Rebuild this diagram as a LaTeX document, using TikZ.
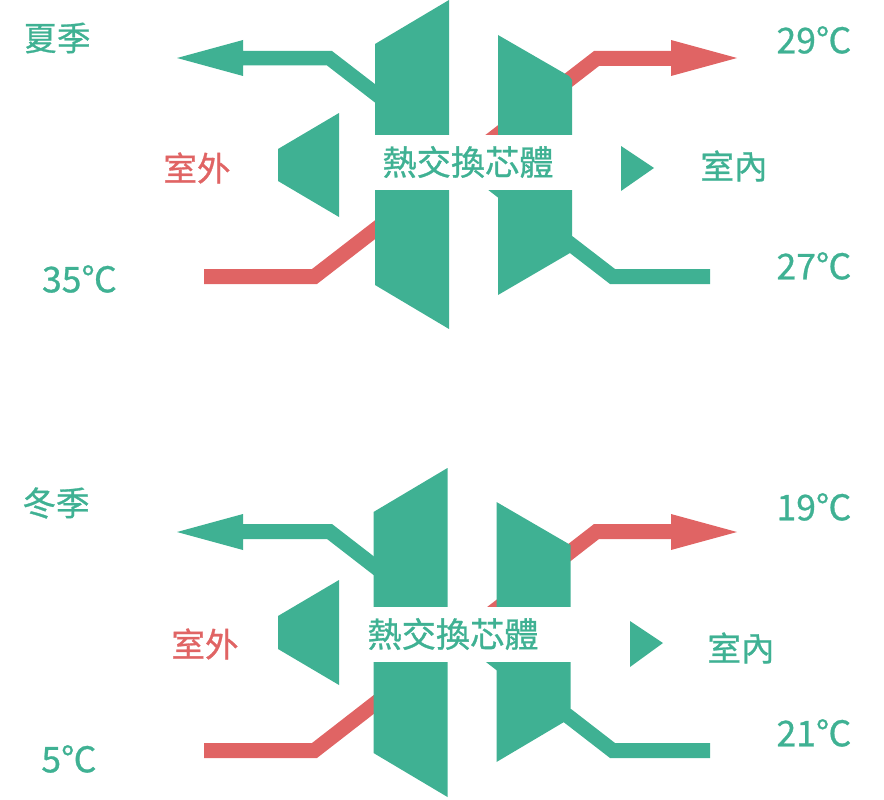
\documentclass[tikz,border=0pt]{standalone}
\usepackage{fontspec}
\setmainfont[FakeBold=0.8]{Noto Sans CJK TC}
\definecolor{gr}{HTML}{3FB193}
\definecolor{rd}{HTML}{E06464}
\tikzset{
  x=1pt,y=-1pt,
  gshape/.style={fill=gr,draw=none},
  rshape/.style={fill=rd,draw=none},
  band/.style={fill=white,draw=none},
  gtext/.style={text=gr,inner sep=0pt,font=\fontsize{33.5}{38}\selectfont},
  rtext/.style={text=rd,inner sep=0pt,font=\fontsize{33.5}{38}\selectfont},
  ctext/.style={text=gr,inner sep=0pt,font=\fontsize{34.2}{38}\selectfont},
  ttext/.style={text=gr,inner sep=0pt,font=\fontsize{35.5}{40}\selectfont},
}
\begin{document}
\begin{tikzpicture}
\useasboundingbox (0,0) rectangle (884,800);
% --- summer ---
\fill[rshape] (204,269)--(312,269)--(594,51)--(671,51)--(671,40)--(737,58)--(671,76)--(671,66)--(599,66)--(317,284)--(204,284)--cycle;
\fill[gshape] (177,58)--(243,40)--(243,51)--(332,51)--(615,269)--(710,269)--(710,284)--(610,284)--(327,65.5)--(243,65.5)--(243,76)--cycle;
\fill[gshape] (375,44)--(449,0)--(449,329)--(375,285)--cycle;
\fill[gshape] (498,35)--(569,76)--(572,80)--(572,236)--(570,253)--(498,295)--cycle;
\fill[band] (374,135) rectangle (573,190);
\fill[gshape] (278,149)--(339,113)--(339,217)--(278,181)--cycle;
\fill[gshape] (621,146)--(654,168)--(621,191)--cycle;
\node[gtext] (t1) at (57,38) {夏季};
\node[ttext] (t2) at (814,40) {29℃};
\node[rtext] (t3) at (197,168) {室外};
\node[ctext] (t4) at (468,162) {熱交換芯體};
\node[gtext] (t5) at (734,166) {室內};
\node[ttext] (t6) at (79.5,279) {35℃};
\node[ttext] (t7) at (814,266) {27℃};
% --- winter ---
\fill[rshape] (204,743)--(312,743)--(594,524)--(671,524)--(671,514)--(737,532)--(671,550)--(671,539)--(599,539)--(317,758)--(204,758)--cycle;
\fill[gshape] (177,532)--(243,514)--(243,524)--(332,524)--(615,743)--(710,743)--(710,758)--(610,758)--(327,539)--(243,539)--(243,550)--cycle;
\fill[gshape] (373.5,512)--(447.5,468)--(447.5,797)--(373.5,753)--cycle;
\fill[gshape] (496.5,502)--(570.5,545)--(570.5,708)--(564,722)--(496.5,762)--cycle;
\fill[band] (372.5,607) rectangle (571.5,662);
\fill[gshape] (278,616)--(339,580)--(339,685)--(278,649)--cycle;
\fill[gshape] (630,621)--(663,643)--(630,667)--cycle;
\node[gtext] (t8) at (56,503) {冬季};
\node[ttext] (t9) at (814,507) {19℃};
\node[rtext] (t10) at (205,644) {室外};
\node[ctext] (t11) at (453,634) {熱交換芯體};
\node[gtext] (t12) at (741,648) {室內};
\node[ttext] (t13) at (69,759) {5℃};
\node[ttext] (t14) at (814,733) {21℃};
\end{tikzpicture}
\end{document}
